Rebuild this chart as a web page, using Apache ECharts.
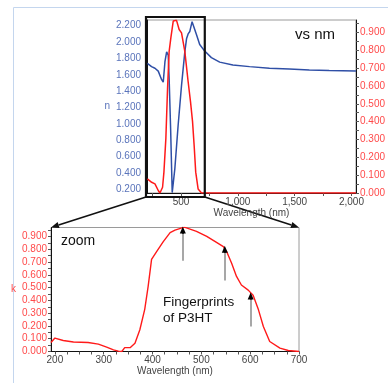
<!DOCTYPE html>
<html><head><meta charset="utf-8">
<script src="https://cdn.jsdelivr.net/npm/echarts@6/dist/echarts.min.js"></script>
<style>html,body{margin:0;padding:0;background:#fff}#c{width:388px;height:383px}</style>
</head><body><div id="c"></div>
<script>
// ---- data ----
// refractive index n (top chart, left axis)
const nWavelength = [203,240,270,299,329,343,358,373,387,395,408,422,437,445,474,504,533,548,562,577,597,612,636,664,708,767,840,956,1103,1278,1453,1629,1804,2040];
const nValues = [1.74,1.70,1.68,1.645,1.54,1.51,1.76,1.88,1.84,1.55,0.94,0.16,0.16,0.45,0.98,1.47,1.88,2.04,2.10,2.13,2.25,2.25,2.09,1.97,1.89,1.81,1.755,1.72,1.70,1.68,1.67,1.66,1.653,1.645];
// extinction coefficient k (top chart, right axis)
const kTopWavelength = [203,241,270,299,314,337,349,366,381,395,410,431,460,483,504,533,562,583,601,615,629,650,680,2040];
const kTopValues = [0.079,0.06,0.051,0.014,0,0.032,0.117,0.305,0.587,0.794,0.87,0.964,0.968,0.917,0.898,0.794,0.625,0.512,0.40,0.268,0.117,0.023,0,0];
// extinction coefficient k (zoomed chart)
const kZoomWavelength = [192,200,217,238,268,289,306,320,330,337,343,354,364,374,384,391,398,408,422,436,446,465,490,511,531,545,552,562,572,582,596,606,617,627,640,661,678,700];
const kZoomValues = [0.07,0.105,0.086,0.074,0.07,0.058,0.034,0.013,0.003,0.0,0.03,0.03,0.065,0.17,0.33,0.51,0.72,0.78,0.86,0.93,0.95,0.973,0.94,0.90,0.853,0.82,0.78,0.69,0.587,0.52,0.48,0.44,0.326,0.196,0.078,0.027,0.008,0.0];
// tick labels
const nTickLabels = [0.2,0.4,0.6,0.8,1.0,1.2,1.4,1.6,1.8,2.0,2.2];
const kTickLabels = [0,0.1,0.2,0.3,0.4,0.5,0.6,0.7,0.8,0.9];
const kMinorTicks = [0,0.05,0.1,0.15,0.2,0.25,0.3,0.35,0.4,0.45,0.5,0.55,0.6,0.65,0.7,0.75,0.8,0.85,0.9,0.95];
const topXTickLabels = [500,1000,1500,2000];
const topXTicks = [250,500,750,1000,1250,1500,1750,2000];
const zoomXTickLabels = [200,300,400,500,600,700];
const zoomXTicks = [200,225,250,275,300,325,350,375,400,425,450,475,500,525,550,575,600,625,650,675,700];
// zoom window and fingerprint arrows
const zoomRange = [200, 700];
const fingerprintWavelengths = [462, 548, 601];
const fingerprintFrom = [0.71, 0.555, 0.196];
const fingerprintTo = [0.95, 0.80, 0.435];

const FONT = 'Liberation Sans, Arial, sans-serif';
const zip = (a, b) => a.map((v, i) => [v, b[i]]);
const fmt3 = v => v.toFixed(3);
const fmtK = v => Math.round(v).toLocaleString('en-US');

const chart = echarts.init(document.getElementById('c'), null, {renderer: 'canvas'});

const arrowLines = [];
fingerprintWavelengths.forEach((w, i) => {
  const mid = fingerprintTo[i] - 0.03;
  arrowLines.push([{coord: [w, fingerprintFrom[i]], symbol: 'none'}, {coord: [w, mid], symbol: 'none'}]);
  arrowLines.push([{coord: [w, mid], symbol: 'none', lineStyle: {color: '#000'}},
                   {coord: [w, fingerprintTo[i]], symbol: 'triangle', symbolSize: [6, 7], lineStyle: {color: '#000'}}]);
});

const axisLineBlack = {show: true, lineStyle: {color: '#111', width: 1}};

const option = {
  animation: false,
  textStyle: {fontFamily: FONT},
  grid: [
    {left: 147, top: 20, width: 210, height: 173, show: true, borderColor: '#9a9a9a', borderWidth: 1, containLabel: false},
    {left: 51, top: 227.5, width: 248, height: 124, show: true, borderColor: '#9a9a9a', borderWidth: 1, containLabel: false}
  ],
  xAxis: [
    {gridIndex: 0, type: 'value', min: 200, max: 2040,
     axisLine: axisLineBlack, splitLine: {show: false},
     axisTick: {show: true, customValues: topXTicks, length: 3, lineStyle: {color: '#555'}},
     axisLabel: {customValues: topXTickLabels, formatter: fmtK, color: '#444', fontSize: 10, margin: 4, fontFamily: FONT},
     name: 'Wavelength (nm)', nameLocation: 'middle', nameGap: 15,
     nameTextStyle: {color: '#444', fontSize: 10, fontFamily: FONT}},
    {gridIndex: 1, type: 'value', min: 192, max: 700,
     axisLine: axisLineBlack, splitLine: {show: false},
     axisTick: {show: true, customValues: zoomXTicks, length: 3, lineStyle: {color: '#555'}},
     axisLabel: {customValues: zoomXTickLabels, formatter: v => String(v), color: '#444', fontSize: 10, margin: 4, fontFamily: FONT},
     name: 'Wavelength (nm)', nameLocation: 'middle', nameGap: 14,
     nameTextStyle: {color: '#444', fontSize: 10, fontFamily: FONT}}
  ],
  yAxis: [
    {gridIndex: 0, type: 'value', min: 0.155, max: 2.27, position: 'left',
     axisLine: axisLineBlack, splitLine: {show: false}, axisTick: {show: false},
     axisLabel: {customValues: nTickLabels, formatter: fmt3, color: '#5a74bb', fontSize: 10, margin: 6, fontFamily: FONT},
     name: 'n', nameLocation: 'middle', nameRotate: 0, nameGap: 31,
     nameTextStyle: {color: '#5a74bb', fontSize: 10, fontFamily: FONT}},
    {gridIndex: 0, type: 'value', min: 0, max: 0.97, position: 'right',
     axisLine: axisLineBlack, splitLine: {show: false},
     axisTick: {show: true, customValues: kMinorTicks, length: 3, lineStyle: {color: '#555'}},
     axisLabel: {customValues: kTickLabels, formatter: fmt3, color: '#ff4a4a', fontSize: 10, margin: 4, fontFamily: FONT}},
    {gridIndex: 1, type: 'value', min: 0, max: 0.97, position: 'left',
     axisLine: axisLineBlack, splitLine: {show: false},
     axisTick: {show: true, customValues: kMinorTicks, length: 3, lineStyle: {color: '#555'}},
     axisLabel: {customValues: kTickLabels, formatter: fmt3, color: '#ff4a4a', fontSize: 10, margin: 4, fontFamily: FONT},
     name: 'k', nameLocation: 'middle', nameRotate: 0, nameGap: 29,
     nameTextStyle: {color: '#ff4a4a', fontSize: 10, fontFamily: FONT}}
  ],
  series: [
    {name: 'n', type: 'line', xAxisIndex: 0, yAxisIndex: 0, data: zip(nWavelength, nValues),
     showSymbol: false, symbol: 'none', lineStyle: {color: '#2f4fa6', width: 1.5}, z: 2},
    {name: 'k', type: 'line', xAxisIndex: 0, yAxisIndex: 1, data: zip(kTopWavelength, kTopValues),
     showSymbol: false, symbol: 'none', lineStyle: {color: '#ff1a1a', width: 1.5}, z: 3},
    {name: 'k zoom', type: 'line', xAxisIndex: 1, yAxisIndex: 2, data: zip(kZoomWavelength, kZoomValues),
     showSymbol: false, symbol: 'none', lineStyle: {color: '#ff1a1a', width: 1.4}, z: 3,
     markLine: {silent: true, animation: false, symbol: ['none', 'none'], label: {show: false},
       lineStyle: {color: '#8a8a8a', width: 1.5, type: 'solid'}, emphasis: {disabled: true},
       data: arrowLines}}
  ]
};
chart.setOption(option);

// ---- decorations positioned from the axes ----
const px0 = chart.convertToPixel({xAxisIndex: 0}, zoomRange[0]);
const px1 = chart.convertToPixel({xAxisIndex: 0}, zoomRange[1]);
const topY0 = chart.convertToPixel({yAxisIndex: 1}, 0.97);
const topY1 = chart.convertToPixel({yAxisIndex: 1}, 0);
const zL = chart.convertToPixel({xAxisIndex: 1}, 192);
const zR = chart.convertToPixel({xAxisIndex: 1}, 700);
const zT = chart.convertToPixel({yAxisIndex: 2}, 0.97);

const boxL = px0 - 1, boxR = px1 + 1, boxT = topY0 - 3, boxB = topY1 + 4;

function arrow(x1, y1, x2, y2) {
  const dx = x2 - x1, dy = y2 - y1, len = Math.hypot(dx, dy);
  const ux = dx / len, uy = dy / len, hl = 8, hw = 3.2;
  const bx = x2 - ux * hl, by = y2 - uy * hl;
  return [
    {type: 'line', shape: {x1, y1, x2: bx, y2: by}, style: {stroke: '#111', lineWidth: 1.6}, silent: true},
    {type: 'polygon', shape: {points: [[x2, y2], [bx - uy * hw, by + ux * hw], [bx + uy * hw, by - ux * hw]]},
     style: {fill: '#111'}, silent: true}
  ];
}

chart.setOption({
  graphic: [
    {type: 'rect', shape: {x: 13.5, y: 7.5, width: 400, height: 400}, style: {fill: 'none', stroke: '#c4d6ee', lineWidth: 1}, silent: true, z: 0},
    {type: 'rect', shape: {x: boxL, y: boxT, width: boxR - boxL, height: boxB - boxT}, style: {fill: 'none', stroke: '#111', lineWidth: 2.2}, silent: true, z: 10},
    ...arrow(boxL, boxB, zL, zT),
    ...arrow(boxR, boxB, zR, zT),
    {type: 'text', x: 295, y: 35, style: {text: 'vs nm', fontSize: 15, fill: '#111', font: '15px ' + FONT, textVerticalAlign: 'middle'}, silent: true},
    {type: 'text', x: 61, y: 241, style: {text: 'zoom', fontSize: 14, fill: '#111', font: '14px ' + FONT, textVerticalAlign: 'middle'}, silent: true},
    {type: 'text', x: 163, y: 302, style: {text: 'Fingerprints', fill: '#111', font: '13.5px ' + FONT, textVerticalAlign: 'middle'}, silent: true},
    {type: 'text', x: 163, y: 318.5, style: {text: 'of P3HT', fill: '#111', font: '13.5px ' + FONT, textVerticalAlign: 'middle'}, silent: true}
  ]
});
</script>
</body></html>
